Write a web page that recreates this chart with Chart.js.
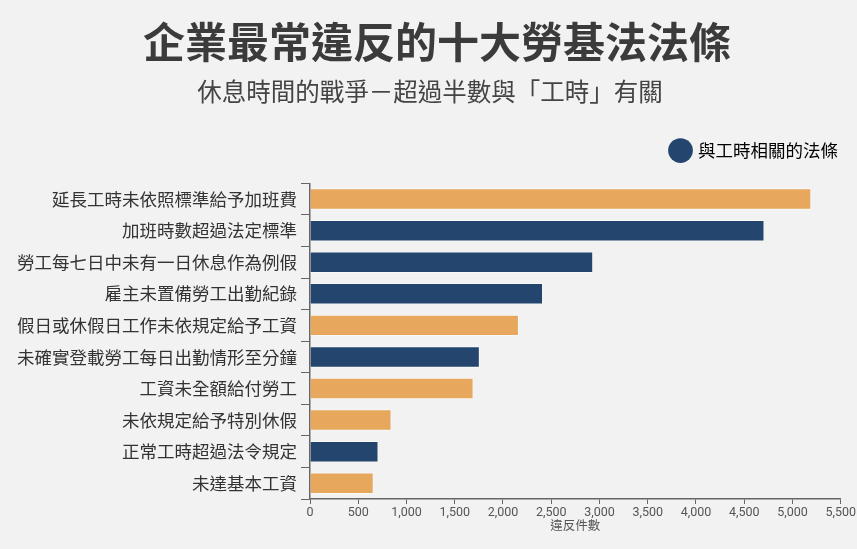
<!DOCTYPE html>
<html>
<head>
<meta charset="utf-8">
<script src="https://cdn.jsdelivr.net/npm/chart.js@4"></script>
<style>
    html, body { margin: 0; padding: 0; background: #f2f2f2; }
    #wrap { width: 857px; height: 549px; }
</style>
</head>
<body>
<div id="wrap"><canvas id="chart"></canvas></div>
<script>
// Categories (top to bottom)
const categories = [
    '延長工時未依照標準給予加班費',
    '加班時數超過法定標準',
    '勞工每七日中未有一日休息作為例假',
    '雇主未置備勞工出勤紀錄',
    '假日或休假日工作未依規定給予工資',
    '未確實登載勞工每日出勤情形至分鐘',
    '工資未全額給付勞工',
    '未依規定給予特別休假',
    '正常工時超過法令規定',
    '未達基本工資'
];

// Violation counts
const violations = [5195, 4710, 2935, 2415, 2165, 1760, 1695, 845, 710, 660];

// Whether the rule is about working hours
const workHourRelated = [false, true, true, true, false, true, false, false, true, false];

const titleText = '企業最常違反的十大勞基法法條';
const subtitleText = '休息時間的戰爭－超過半數與「工時」有關';
const legendText = '與工時相關的法條';
const xAxisTitle = '違反件數';

const NAVY = '#24466e';
const ORANGE = '#e7a75d';
const CJK = '"Noto Sans CJK TC", "Noto Sans", sans-serif';

const barColors = workHourRelated.map(flag => flag ? NAVY : ORANGE);

// Extra space between the legend and the plot
const legendMargin = {
    id: 'legendMargin',
    beforeInit(chart) {
        const origFit = chart.legend.fit;
        chart.legend.fit = function () {
            origFit.bind(chart.legend)();
            this.height += 14;
        };
    },
};

// The headings sit a little right of the canvas centre
const shiftHeadings = {
    id: 'shiftHeadings',
    afterLayout(chart) {
        [chart.titleBlock, chart.$subtitle].forEach(block => {
            if (block) {
                block.left += 7;
                block.right += 7;
            }
        });
    },
};

const ctx = document.getElementById('chart').getContext('2d');
new Chart(ctx, {
    type: 'bar',
    data: {
        labels: categories,
        datasets: [{
            label: legendText,
            data: violations,
            backgroundColor: barColors,
            borderColor: 'rgba(255,255,255,0.55)',
            borderWidth: 1,
            borderSkipped: 'left',
            barPercentage: 0.68,
            categoryPercentage: 1.0,
        }],
    },
    plugins: [legendMargin, shiftHeadings],
    options: {
        indexAxis: 'y',
        responsive: true,
        maintainAspectRatio: false,
        animation: false,
        layout: {
            padding: { left: 12, right: 9, top: 0, bottom: 16 },
        },
        plugins: {
            title: {
                display: true,
                text: titleText,
                color: '#3b3b3b',
                font: { family: CJK, size: 42, weight: 'bold' },
                padding: { top: 17, bottom: 4 },
            },
            subtitle: {
                display: true,
                text: subtitleText,
                color: '#444',
                font: { family: CJK, size: 24.5 },
                padding: { top: 6, bottom: 25 },
            },
            legend: {
                display: true,
                align: 'end',
                labels: {
                    usePointStyle: true,
                    color: '#333',
                    font: { family: CJK, size: 17.5 },
                    generateLabels: () => [{
                        text: legendText,
                        fillStyle: NAVY,
                        strokeStyle: NAVY,
                        lineWidth: 0,
                        pointStyle: 'circle',
                        hidden: false,
                        datasetIndex: 0,
                    }],
                },
                onClick: () => {},
            },
            tooltip: { enabled: false },
        },
        scales: {
            x: {
                min: 0,
                max: 5500,
                ticks: {
                    stepSize: 500,
                    color: '#555',
                    font: { family: '"Liberation Sans Narrow", Roboto, sans-serif', size: 12.5 },
                    padding: 1,
                    callback: value => value.toLocaleString('en-US'),
                },
                grid: {
                    drawOnChartArea: false,
                    drawTicks: true,
                    tickLength: 5,
                    color: '#666',
                },
                border: { display: true, color: '#666', width: 1.5 },
                title: {
                    display: true,
                    text: xAxisTitle,
                    color: '#555',
                    font: { family: CJK, size: 12.5 },
                    padding: { top: -3, bottom: 0 },
                },
            },
            y: {
                ticks: {
                    color: '#333',
                    font: { family: CJK, size: 17.5 },
                    padding: 4,
                    autoSkip: false,
                },
                grid: {
                    drawOnChartArea: false,
                    drawTicks: true,
                    tickLength: 9,
                    color: '#666',
                },
                border: { display: true, color: '#666', width: 1.5 },
                afterFit: scale => { scale.width = 298; },
            },
        },
    },
});
</script>
</body>
</html>
